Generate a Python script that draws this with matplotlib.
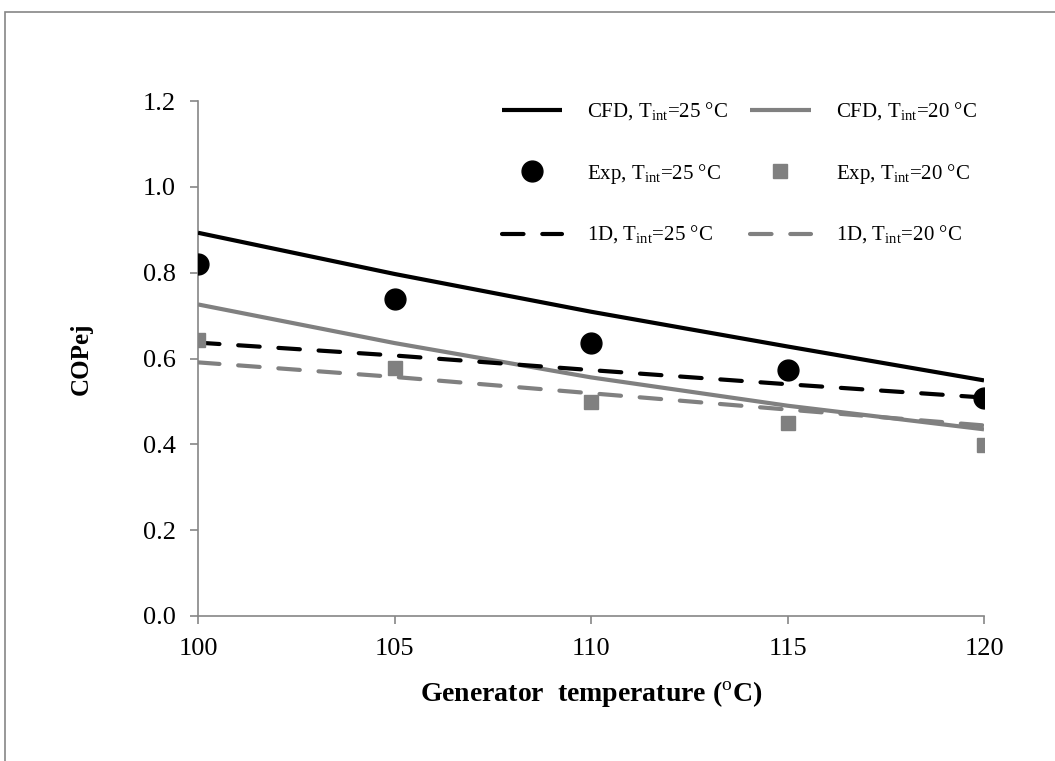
import matplotlib
matplotlib.use("Agg")
import matplotlib.pyplot as plt
from matplotlib.patches import Rectangle

plt.rcParams['font.family'] = ['Liberation Serif', 'DejaVu Serif']
plt.rcParams['mathtext.fontset'] = 'custom'
plt.rcParams['mathtext.rm'] = 'Liberation Serif'
plt.rcParams['lines.scale_dashes'] = False

# ---- data ----
gen_temp = [100, 105, 110, 115, 120]
cfd_25 = [0.893, 0.797, 0.709, 0.628, 0.549]
cfd_20 = [0.726, 0.636, 0.556, 0.490, 0.435]
exp_25 = [0.820, 0.738, 0.635, 0.573, 0.508]
exp_20 = [0.642, 0.579, 0.498, 0.449, 0.398]
oned_25 = [0.637, 0.607, 0.573, 0.540, 0.509]
oned_20 = [0.591, 0.557, 0.519, 0.481, 0.444]

x_ticks = [100, 105, 110, 115, 120]
y_ticks = [0.0, 0.2, 0.4, 0.6, 0.8, 1.0, 1.2]

BLACK = '#000000'
GREY = '#808080'
AXC = '#868686'

fig = plt.figure(figsize=(10.55, 7.61), dpi=100)
fig.patches.append(Rectangle((5/1055, -0.1), 1.2, (1 - 12/761) + 0.1,
                             transform=fig.transFigure, fill=False,
                             edgecolor=AXC, linewidth=1.2, zorder=0))

ax = fig.add_axes([198/1055, 1 - 616/761, (984 - 198)/1055, (616 - 101)/761])

dash = (15.5, 13.5)
h_cfd25, = ax.plot(gen_temp, cfd_25, color=BLACK, lw=3.0, solid_capstyle='butt',
                   label='CFD, T$_{\\mathrm{int}}$=25 °C', zorder=3)
h_cfd20, = ax.plot(gen_temp, cfd_20, color=GREY, lw=3.0, solid_capstyle='butt',
                   label='CFD, T$_{\\mathrm{int}}$=20 °C', zorder=3)
h_exp25, = ax.plot(gen_temp, exp_25, linestyle='none', marker='o', ms=15,
                   color=BLACK, label='Exp, T$_{\\mathrm{int}}$=25 °C', zorder=4)
h_exp20, = ax.plot(gen_temp, exp_20, linestyle='none', marker='s', ms=10.5,
                   color=GREY, label='Exp, T$_{\\mathrm{int}}$=20 °C', zorder=4)
h_1d25, = ax.plot(gen_temp, oned_25, color=BLACK, lw=3.0, dashes=dash,
                  dash_capstyle='round', label='1D, T$_{\\mathrm{int}}$=25 °C', zorder=3)
h_1d20, = ax.plot(gen_temp, oned_20, color=GREY, lw=3.0, dashes=dash,
                  dash_capstyle='round', label='1D, T$_{\\mathrm{int}}$=20 °C', zorder=3)

ax.set_xlim(100, 120)
ax.set_ylim(0, 1.2)
ax.set_xticks(x_ticks)
ax.set_xticklabels([str(v) for v in x_ticks])
ax.set_yticks(y_ticks)
ax.set_yticklabels([f'{v:.1f}' for v in y_ticks])

for s in ['top', 'right']:
    ax.spines[s].set_visible(False)
for s in ['left', 'bottom']:
    ax.spines[s].set_color(AXC)
    ax.spines[s].set_linewidth(1.2)
ax.tick_params(axis='both', direction='out', length=6, width=1.2,
               color=AXC, labelsize=19, pad=10, labelcolor='black')

ax.set_xlabel('Generator  temperature ($^{\\mathrm{o}}$C)', fontsize=20,
              fontweight='bold', labelpad=14)
ax.set_ylabel('COPej', fontsize=18, fontweight='bold', labelpad=36)

handles = [h_cfd25, h_exp25, h_1d25, h_cfd20, h_exp20, h_1d20]
labels = [h.get_label() for h in handles]
leg = fig.legend(handles, labels, ncol=2, loc='upper left',
                 bbox_to_anchor=(502/1055, 1 - 101/761), frameon=False,
                 fontsize=15, handlelength=2.9, handletextpad=1.2,
                 columnspacing=1.05, labelspacing=1.85, borderpad=0,
                 borderaxespad=0)

fig.savefig('out.png', dpi=100)
